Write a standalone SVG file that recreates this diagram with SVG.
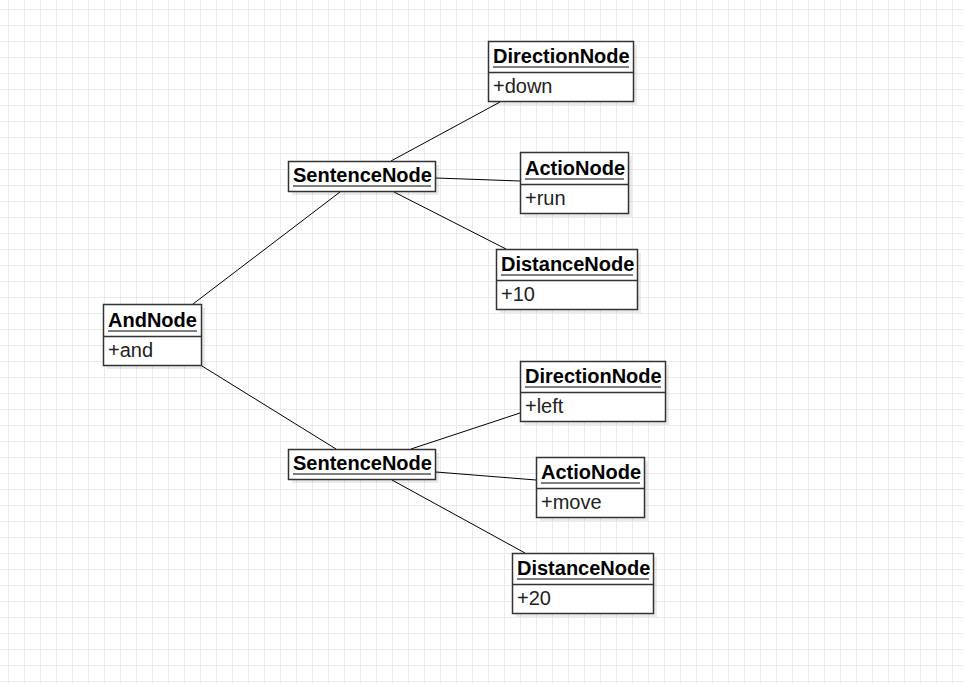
<svg xmlns="http://www.w3.org/2000/svg" width="964" height="684" viewBox="0 0 964 684">
<defs>
<pattern id="grid" x="8" y="9" width="16" height="16" patternUnits="userSpaceOnUse">
<path d="M0 0.5H16M0.5 0V16" fill="none" stroke="#ebebeb" stroke-width="1"/>
</pattern>
<style>
.box{fill:#fff;stroke:#333;stroke-width:1.5}
.sh{fill:#000;fill-opacity:0.08}
.div{stroke:#333;stroke-width:1.5}
.ul{stroke:#000;stroke-width:1.2}
.t{font-family:"Liberation Sans",Arial,sans-serif;font-size:20px;font-weight:bold;fill:#000}
.a{font-family:"Liberation Sans",Arial,sans-serif;font-size:20px;fill:#222}
.c{stroke:#000;stroke-width:1;fill:none}
</style>
</defs>
<rect width="964" height="684" fill="#fff"/>
<rect width="964" height="684" fill="url(#grid)"/>
<g id="connectors">
<line class="c" x1="193" y1="304" x2="340" y2="192"/>
<line class="c" x1="202" y1="366" x2="336" y2="449"/>
<line class="c" x1="391" y1="161" x2="500" y2="102"/>
<line class="c" x1="436" y1="178" x2="520" y2="181"/>
<line class="c" x1="394" y1="192" x2="506" y2="249"/>
<line class="c" x1="411" y1="449" x2="520" y2="413"/>
<line class="c" x1="436" y1="472" x2="536" y2="480"/>
<line class="c" x1="392" y1="480" x2="525" y2="553"/>
</g>
<g id="direction1">
<rect class="sh" x="492" y="45" width="145" height="60"/>
<rect class="box" x="488.5" y="41.5" width="145" height="60"/>
<line class="div" x1="488.5" y1="72.5" x2="633.5" y2="72.5"/>
<text class="t" x="493" y="63">DirectionNode</text>
<line class="ul" x1="493" y1="67" x2="629" y2="67"/>
<text class="a" x="493" y="93">+down</text>
</g>
<g id="sentence1">
<rect class="sh" x="292" y="165" width="147" height="30"/>
<rect class="box" x="288.5" y="161.5" width="147" height="30"/>
<text class="t" x="293" y="182">SentenceNode</text>
<line class="ul" x1="293" y1="186" x2="431" y2="186"/>
</g>
<g id="actio1">
<rect class="sh" x="524" y="156" width="108" height="61"/>
<rect class="box" x="520.5" y="152.5" width="108" height="61"/>
<line class="div" x1="520.5" y1="184.5" x2="628.5" y2="184.5"/>
<text class="t" x="525" y="175">ActioNode</text>
<line class="ul" x1="525" y1="179" x2="624" y2="179"/>
<text class="a" x="525" y="205">+run</text>
</g>
<g id="distance1">
<rect class="sh" x="500" y="253" width="141" height="60"/>
<rect class="box" x="496.5" y="249.5" width="141" height="60"/>
<line class="div" x1="496.5" y1="280.5" x2="637.5" y2="280.5"/>
<text class="t" x="501" y="271">DistanceNode</text>
<line class="ul" x1="501" y1="275" x2="633" y2="275"/>
<text class="a" x="501" y="301">+10</text>
</g>
<g id="and">
<rect class="sh" x="107" y="308" width="98" height="61"/>
<rect class="box" x="103.5" y="304.5" width="98" height="61"/>
<line class="div" x1="103.5" y1="336.5" x2="201.5" y2="336.5"/>
<text class="t" x="108" y="327">AndNode</text>
<line class="ul" x1="108" y1="331" x2="197" y2="331"/>
<text class="a" x="108" y="357">+and</text>
</g>
<g id="direction2">
<rect class="sh" x="524" y="365" width="145" height="60"/>
<rect class="box" x="520.5" y="361.5" width="145" height="60"/>
<line class="div" x1="520.5" y1="392.5" x2="665.5" y2="392.5"/>
<text class="t" x="525" y="383">DirectionNode</text>
<line class="ul" x1="525" y1="387" x2="661" y2="387"/>
<text class="a" x="525" y="413">+left</text>
</g>
<g id="sentence2">
<rect class="sh" x="292" y="453" width="147" height="30"/>
<rect class="box" x="288.5" y="449.5" width="147" height="30"/>
<text class="t" x="293" y="470">SentenceNode</text>
<line class="ul" x1="293" y1="474" x2="431" y2="474"/>
</g>
<g id="actio2">
<rect class="sh" x="540" y="461" width="108" height="60"/>
<rect class="box" x="536.5" y="457.5" width="108" height="60"/>
<line class="div" x1="536.5" y1="488.5" x2="644.5" y2="488.5"/>
<text class="t" x="541" y="479">ActioNode</text>
<line class="ul" x1="541" y1="483" x2="640" y2="483"/>
<text class="a" x="541" y="509">+move</text>
</g>
<g id="distance2">
<rect class="sh" x="516" y="557" width="141" height="60"/>
<rect class="box" x="512.5" y="553.5" width="141" height="60"/>
<line class="div" x1="512.5" y1="584.5" x2="653.5" y2="584.5"/>
<text class="t" x="517" y="575">DistanceNode</text>
<line class="ul" x1="517" y1="579" x2="649" y2="579"/>
<text class="a" x="517" y="605">+20</text>
</g>
</svg>
